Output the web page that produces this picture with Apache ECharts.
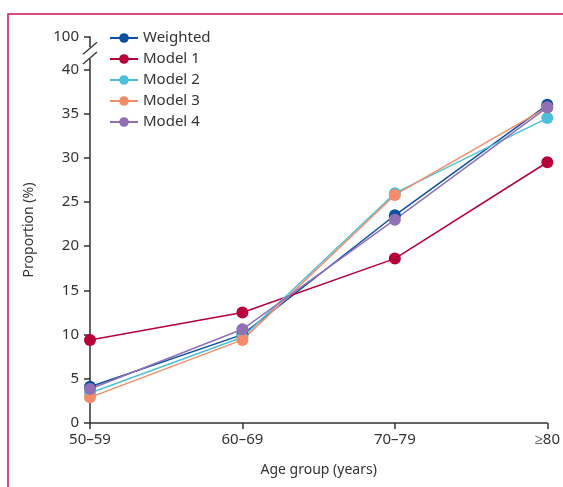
<!DOCTYPE html>
<html><head><meta charset="utf-8">
<script src="https://cdn.jsdelivr.net/npm/echarts@6/dist/echarts.min.js"></script>
<style>html,body{margin:0;padding:0;background:#fff}#c{width:563px;height:487px}</style>
</head><body><div id="c"></div>
<script>
const categories = ['50–59', '60–69', '70–79', '≥80'];
const weighted = [4.1, 10.0, 23.5, 36.0];
const model1 = [9.4, 12.5, 18.6, 29.5];
const model2 = [3.4, 9.7, 26.0, 34.5];
const model3 = [2.9, 9.4, 25.8, 35.7];
const model4 = [3.85, 10.6, 23.0, 35.7];
const yTicks = [0, 5, 10, 15, 20, 25, 30, 35, 40];
const breakTop = 43.67; // position on the axis where "100" is shown
const breakLabel = '100';

const FONT = 'Noto Sans';
const names = ['Weighted', 'Model 1', 'Model 2', 'Model 3', 'Model 4'];
const colors = ['#0b4f9f', '#b5003a', '#4cc0da', '#f28c6a', '#9170b5'];
const datas = [weighted, model1, model2, model3, model4];

const chart = echarts.init(document.getElementById('c'));
const allTicks = yTicks.concat([breakTop]);
chart.setOption({
  animation: false,
  grid: {left: 90, right: 12, top: 37, bottom: 64},
  legend: {
    orient: 'vertical', left: 104, top: 24, itemWidth: 28, itemHeight: 12, itemGap: 3,
    textStyle: {fontFamily: FONT, fontSize: 15, color: '#333', lineHeight: 18},
    data: names
  },
  xAxis: {
    type: 'category', data: categories, boundaryGap: false,
    name: 'Age group (years)', nameLocation: 'middle', nameGap: 40,
    nameTextStyle: {fontFamily: FONT, fontSize: 14, color: '#333'},
    axisLine: {lineStyle: {color: '#333', width: 1.5}},
    axisTick: {show: true, length: 6, inside: false, lineStyle: {color: '#333', width: 1.5}},
    axisLabel: {fontFamily: FONT, fontSize: 15, color: '#333', margin: 9},
    splitLine: {show: false}
  },
  yAxis: {
    type: 'value', min: 0, max: breakTop,
    name: 'Proportion (%)', nameLocation: 'middle', nameGap: 54, nameRotate: 90,
    nameTextStyle: {fontFamily: FONT, fontSize: 14, color: '#333'},
    axisLine: {show: true, lineStyle: {color: '#333', width: 1.5}},
    axisTick: {show: true, length: 6, customValues: allTicks, lineStyle: {color: '#333', width: 1.5}},
    axisLabel: {fontFamily: FONT, fontSize: 15, color: '#333', margin: 11, customValues: allTicks,
      formatter: v => (Math.abs(v - breakTop) < 0.01 ? breakLabel : String(v))},
    splitLine: {show: false}
  },
  series: names.map((n, i) => ({
    name: n, type: 'line', data: datas[i], symbol: 'circle', symbolSize: 12,
    itemStyle: {color: colors[i]}, lineStyle: {color: colors[i], width: 1.5}
  }))
});

// axis break decoration and frame
const xAx = chart.convertToPixel({gridIndex: 0}, [0, 0])[0];
const yA = chart.convertToPixel({gridIndex: 0}, [0, 42.4])[1];
const yB = chart.convertToPixel({gridIndex: 0}, [0, 41.3])[1];
chart.setOption({
  graphic: [
    {type: 'rect', shape: {x: 8, y: 14, width: 600, height: 520}, style: {fill: 'none', stroke: '#c8164b', lineWidth: 1.5}, z: 100},
    {type: 'rect', shape: {x: xAx - 4, y: yA - 1, width: 8, height: yB - yA + 2}, style: {fill: '#fff'}, z: 100},
    {type: 'line', shape: {x1: xAx - 7, y1: yA + 6, x2: xAx + 7, y2: yA - 6}, style: {stroke: '#333', lineWidth: 1.3}, z: 101},
    {type: 'line', shape: {x1: xAx - 7, y1: yB + 6, x2: xAx + 7, y2: yB - 6}, style: {stroke: '#333', lineWidth: 1.3}, z: 101}
  ]
});
</script></body></html>
